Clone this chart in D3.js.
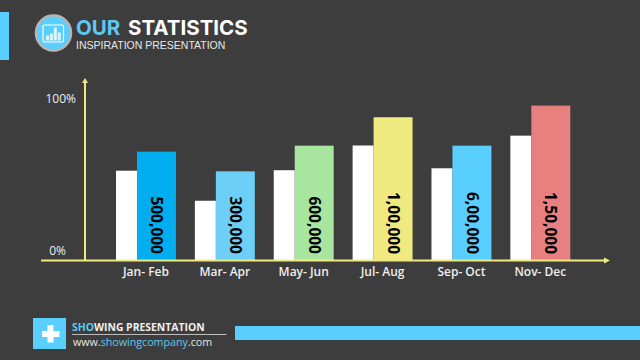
<!DOCTYPE html>
<html>
<head>
<meta charset="utf-8">
<script src="https://cdn.jsdelivr.net/npm/d3@7"></script>
<style>
  html, body { margin: 0; padding: 0; background: #3d3d3d; }
  svg { display: block; }
  text { font-family: "Open Sans", sans-serif; }
</style>
</head>
<body>
<svg id="chart" width="640" height="360"></svg>
<script>
var categories = ["Jan- Feb", "Mar- Apr", "May- Jun", "Jul- Aug", "Sep- Oct", "Nov- Dec"];
var whiteValues = [55.6, 37, 55.9, 71.2, 57.1, 77.3];
var colorValues = [67.4, 55.2, 71.1, 88.7, 71.1, 95.9];
var barLabels = ["500,000", "300,000", "600,000", "1,00,000", "6,00,000", "1,50,000"];
var barColors = ["#00aeef", "#6dcff6", "#a8e6a0", "#f0e97f", "#58cfff", "#e88080"];
var yTicks = [0, 100];

var width = 640;
var height = 360;
var yellow = "#f0e97f";
var blue = "#58cfff";

var svg = d3.select("#chart");

var x = d3.scaleBand()
  .domain(categories)
  .range([116, 570.3])
  .paddingInner(0.24);

var y = d3.scaleLinear()
  .domain([0, 100])
  .range([260.5, 99]);

// position inside one group: white bar then the wider coloured bar
var inner = d3.scaleLinear()
  .domain([0, 1])
  .range([0, x.bandwidth()]);
var split = 0.35;

svg.append("rect").attr("width", width).attr("height", height).attr("fill", "#3d3d3d");

// header
svg.append("rect").attr("x", 0).attr("y", 12).attr("width", 9).attr("height", 48).attr("fill", blue);
svg.append("circle").attr("cx", 53.5).attr("cy", 33).attr("r", 17.5).attr("fill", blue)
  .attr("stroke", "#b5b5b5").attr("stroke-width", 2.5);
svg.append("rect").attr("x", 43).attr("y", 25).attr("width", 20.5).attr("height", 17).attr("rx", 1.5)
  .attr("fill", "none").attr("stroke", "#fff").attr("stroke-width", 1.2);
var iconBars = [5, 7, 13, 8];
svg.selectAll("rect.icon").data(iconBars).enter().append("rect")
  .attr("class", "icon")
  .attr("x", function(d, i) { return 46 + i * 3.9; })
  .attr("y", function(d) { return 40.5 - d; })
  .attr("width", 3)
  .attr("height", function(d) { return d; })
  .attr("fill", "#fff")
  .attr("opacity", 0.8);

var title = svg.append("text").attr("x", 76).attr("y", 35)
  .style("font-family", "Inter, sans-serif")
  .style("font-size", "20.5px").style("font-weight", 700).attr("fill", "#fff");
title.append("tspan").attr("fill", "#5ec8f2").text("OUR");
title.append("tspan").attr("x", 128).text("STATISTICS");
svg.append("text").attr("x", 76).attr("y", 49)
  .style("font-family", "Liberation Sans, sans-serif")
  .style("font-size", "10.5px").attr("fill", "#e8e8e8")
  .text("INSPIRATION PRESENTATION");

// bars
svg.selectAll("rect.white").data(whiteValues).enter().append("rect")
  .attr("class", "white")
  .attr("x", function(d, i) { return x(categories[i]); })
  .attr("y", function(d) { return y(d); })
  .attr("width", inner(split))
  .attr("height", function(d) { return y(0) - y(d); })
  .attr("fill", "#fff");

svg.selectAll("rect.color").data(colorValues).enter().append("rect")
  .attr("class", "color")
  .attr("x", function(d, i) { return x(categories[i]) + inner(split); })
  .attr("y", function(d) { return y(d); })
  .attr("width", inner(1 - split))
  .attr("height", function(d) { return y(0) - y(d); })
  .attr("fill", function(d, i) { return barColors[i]; });

// rotated value labels
svg.selectAll("text.value").data(barLabels).enter().append("text")
  .attr("class", "value")
  .attr("transform", function(d, i) {
    return "translate(" + (x(categories[i]) + inner(split + (1 - split) / 2)) + "," + (y(0) - 6.5) + ") rotate(90)";
  })
  .attr("text-anchor", "end")
  .attr("dy", "0.35em")
  .style("font-size", "15.5px").style("font-weight", 700)
  .attr("fill", "#000")
  .text(function(d) { return d; });

// axes
var axisBottom = d3.axisBottom(x).tickSize(0).tickPadding(7);
var xAxis = svg.append("g")
  .attr("transform", "translate(0," + y(0) + ")")
  .call(axisBottom);
xAxis.select(".domain").remove();
xAxis.selectAll("text")
  .style("font-family", "'Open Sans', sans-serif")
  .style("font-size", "12px").style("font-weight", 600).attr("fill", "#eee");

var axisLeft = d3.axisLeft(y).tickValues(yTicks).tickSize(0).tickPadding(9)
  .tickFormat(function(d) { return d + "%"; });
var yAxis = svg.append("g")
  .attr("transform", "translate(85,0)")
  .call(axisLeft);
yAxis.select(".domain").remove();
yAxis.selectAll("text")
  .style("font-family", "'Open Sans', sans-serif")
  .style("font-size", "12px").attr("fill", "#eee");
// the 0% label sits above the baseline and further left, as drawn in the slide
yAxis.selectAll(".tick").filter(function(d) { return d === 0; })
  .select("text").attr("y", -9.5).attr("x", -19);

svg.append("line").attr("x1", 41).attr("x2", 605).attr("y1", y(0)).attr("y2", y(0))
  .attr("stroke", yellow).attr("stroke-width", 2);
svg.append("path").attr("d", "M604,257.5L610,260.5L604,263.5Z").attr("fill", yellow);
svg.append("line").attr("x1", 85).attr("x2", 85).attr("y1", y(0)).attr("y2", 82)
  .attr("stroke", yellow).attr("stroke-width", 2);
svg.append("path").attr("d", "M82,83L85,78L88,83Z").attr("fill", yellow);

// footer
svg.append("rect").attr("x", 33).attr("y", 318).attr("width", 33).attr("height", 31).attr("fill", blue);
svg.append("rect").attr("x", 42).attr("y", 331).attr("width", 17.5).attr("height", 6).attr("fill", "#fff");
svg.append("rect").attr("x", 47.5).attr("y", 325).attr("width", 6).attr("height", 17.5).attr("fill", "#fff");
svg.append("rect").attr("x", 235).attr("y", 326).attr("width", 405).attr("height", 14).attr("fill", blue);
svg.append("line").attr("x1", 72).attr("x2", 226.5).attr("y1", 334.5).attr("y2", 334.5)
  .attr("stroke", "#bdbdbd").attr("stroke-width", 1);

var foot1 = svg.append("text").attr("x", 72).attr("y", 331)
  .style("font-size", "10.4px").style("font-weight", 700).attr("fill", "#f0f0f0");
foot1.append("tspan").attr("fill", "#5ec8f2").text("SHO");
foot1.append("tspan").text("WING PRESENTATION");

var foot2 = svg.append("text").attr("x", 73).attr("y", 345.5)
  .style("font-size", "10.7px").attr("fill", "#e8e8e8");
foot2.append("tspan").text("www.");
foot2.append("tspan").attr("fill", "#5ec8f2").text("showingcompany");
foot2.append("tspan").text(".com");
</script>
</body>
</html>
